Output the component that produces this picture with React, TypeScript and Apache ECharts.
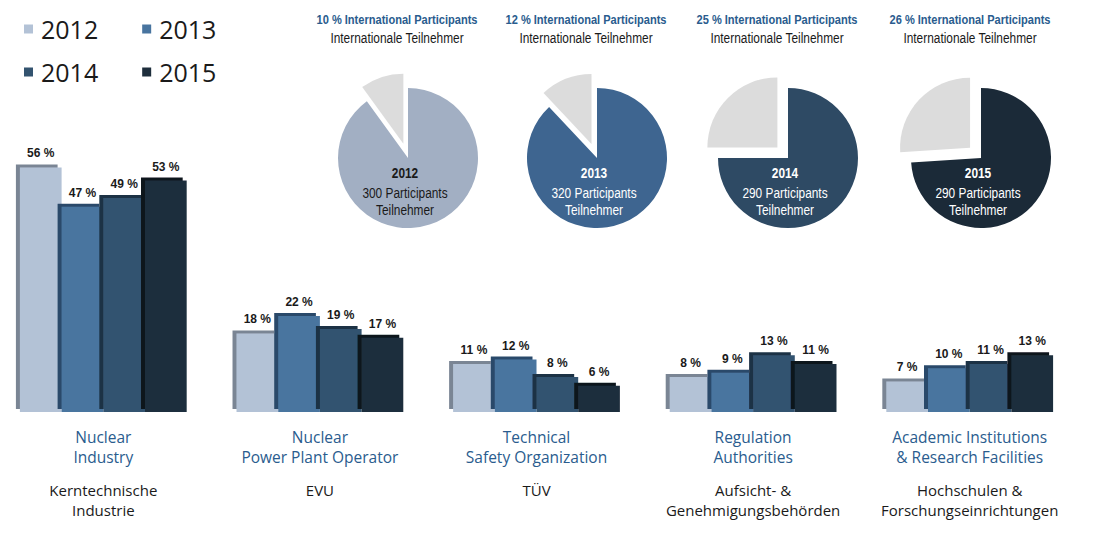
import React, { useEffect, useRef } from 'react';
import * as echarts from 'echarts';

const years = ['2012', '2013', '2014', '2015'];
const categoriesEn = [
  'Nuclear\nIndustry',
  'Nuclear\nPower Plant Operator',
  'Technical\nSafety Organization',
  'Regulation\nAuthorities',
  'Academic Institutions\n& Research Facilities',
];
const categoriesDe = [
  'Kerntechnische\nIndustrie',
  'EVU',
  'TÜV',
  'Aufsicht- &\nGenehmigungsbehörden',
  'Hochschulen &\nForschungseinrichtungen',
];
const share2012 = [56, 18, 11, 8, 7];
const share2013 = [47, 22, 12, 9, 10];
const share2014 = [49, 19, 8, 13, 11];
const share2015 = [53, 17, 6, 11, 13];
const intlShare = [10, 12, 25, 26];
const participants = [300, 320, 290, 290];

const shares = [share2012, share2013, share2014, share2015];
const barColors = ['#b3c2d6', '#48749f', '#33536f', '#1e2e3c'];
const sideColors = ['#7a8594', '#2b4a6b', '#1d3245', '#10181f'];
const pieColors = ['#a2afc3', '#3e6590', '#2e4a64', '#1b2a38'];
const pieTextColors = ['#1a1a1a', '#ffffff', '#ffffff', '#ffffff'];
// the chart div is shifted left; all x positions below are in page coordinates
const SHIFT = 5;
const pieCenterX = [408, 597, 788, 981];
const pieCenterY = 158;
const arial = '"Liberation Sans", Arial, sans-serif';
const sans = '"Open Sans", "Noto Sans", sans-serif';
const SQ = 0.82;

export default function App() {
  const ref = useRef<HTMLDivElement>(null);
  useEffect(() => {
    if (!ref.current) return;
    const chart = echarts.init(ref.current, undefined, { renderer: 'svg' });

    const legendBase = {
      left: 24 + SHIFT,
      itemWidth: 9,
      itemHeight: 9,
      itemGap: 44,
      icon: 'rect',
      padding: 0,
      selectedMode: false,
      itemStyle: { shadowBlur: 0, shadowOffsetX: 0, shadowOffsetY: 0, shadowColor: 'transparent' },
      textStyle: { fontSize: 25, color: '#1a1a1a', fontFamily: sans, lineHeight: 28, padding: [0, 0, 0, 3] },
    };

    const barSeries = years.map((y, i) => ({
      type: 'bar',
      name: y,
      data: shares[i],
      barGap: '0%',
      barCategoryGap: '23%',
      itemStyle: {
        color: barColors[i],
        shadowColor: sideColors[i],
        shadowBlur: 0,
        shadowOffsetX: -4,
        shadowOffsetY: -3,
      },
      label: {
        show: true,
        position: 'top',
        distance: 8,
        formatter: (p: any) => `${p.value} %`,
        fontFamily: arial,
        fontWeight: 'bold',
        fontSize: 12,
        color: '#1a1a1a',
      },
    }));

    const pieSeries = years.map((y, i) => ({
      type: 'pie',
      center: [pieCenterX[i] + SHIFT, pieCenterY],
      radius: 70,
      startAngle: 90,
      clockwise: true,
      selectedMode: 'single',
      selectedOffset: 15,
      label: { show: false },
      labelLine: { show: false },
      data: [
        { name: `Teilnehmer ${y}`, value: 100 - intlShare[i], itemStyle: { color: pieColors[i] } },
        { name: `International ${y}`, value: intlShare[i], selected: true, itemStyle: { color: '#dcdcdc' } },
      ],
    }));

    const txt = (x: number, y: number, text: string, fill: string, size: number, bold: boolean) => ({
      type: 'text',
      x: x + SHIFT,
      y,
      z: 100,
      scaleX: SQ,
      style: {
        text,
        fill,
        fontFamily: arial,
        fontWeight: bold ? 'bold' : 'normal',
        fontSize: size,
        align: 'center',
        verticalAlign: 'middle',
      },
    });

    const graphics: any[] = [];
    years.forEach((y, i) => {
      const cx = pieCenterX[i];
      graphics.push(txt(cx - 11, 20, `${intlShare[i]} % International Participants`, '#2a5c8e', 13.5, true));
      graphics.push(txt(cx - 11, 38, 'Internationale Teilnehmer', '#1a1a1a', 14.5, false));
      graphics.push(txt(cx - 3, pieCenterY + 15, y, pieTextColors[i], 14.5, true));
      graphics.push(txt(cx - 3, pieCenterY + 35, `${participants[i]} Participants`, pieTextColors[i], 14.5, false));
      graphics.push(txt(cx - 3, pieCenterY + 52, 'Teilnehmer', pieTextColors[i], 14.5, false));
    });

    chart.setOption({
      animation: false,
      backgroundColor: '#ffffff',
      legend: [
        { ...legendBase, top: 15, data: ['2012', '2013'] },
        { ...legendBase, top: 58, data: ['2014', '2015'] },
      ],
      grid: { left: 0, right: 15, top: 150, bottom: 125 },
      xAxis: {
        type: 'category',
        data: categoriesEn,
        axisLine: { show: false },
        axisTick: { show: false },
        axisLabel: {
          interval: 0,
          margin: 15,
          formatter: (v: string, idx: number) => {
            const en = v.split('\n').map((s) => `{en|${s}}`).join('\n');
            const de = categoriesDe[idx].split('\n').map((s) => `{de|${s}}`).join('\n');
            return `${en}\n{gap| }\n${de}`;
          },
          rich: {
            en: { color: '#2a5c8e', fontSize: 15.5, lineHeight: 20, fontFamily: sans },
            de: { color: '#1a1a1a', fontSize: 15, lineHeight: 20, fontFamily: sans },
            gap: { fontSize: 10, lineHeight: 13 },
          },
        },
      },
      yAxis: {
        type: 'value',
        min: 0,
        max: 60,
        show: false,
        splitLine: { show: false },
      },
      series: [...barSeries, ...pieSeries],
      graphic: graphics,
    });

    return () => chart.dispose();
  }, []);

  return (
    <div
      ref={ref}
      style={{ position: 'fixed', left: -SHIFT, top: 0, width: 1093 + SHIFT, height: 537, background: '#fff' }}
    />
  );
}
